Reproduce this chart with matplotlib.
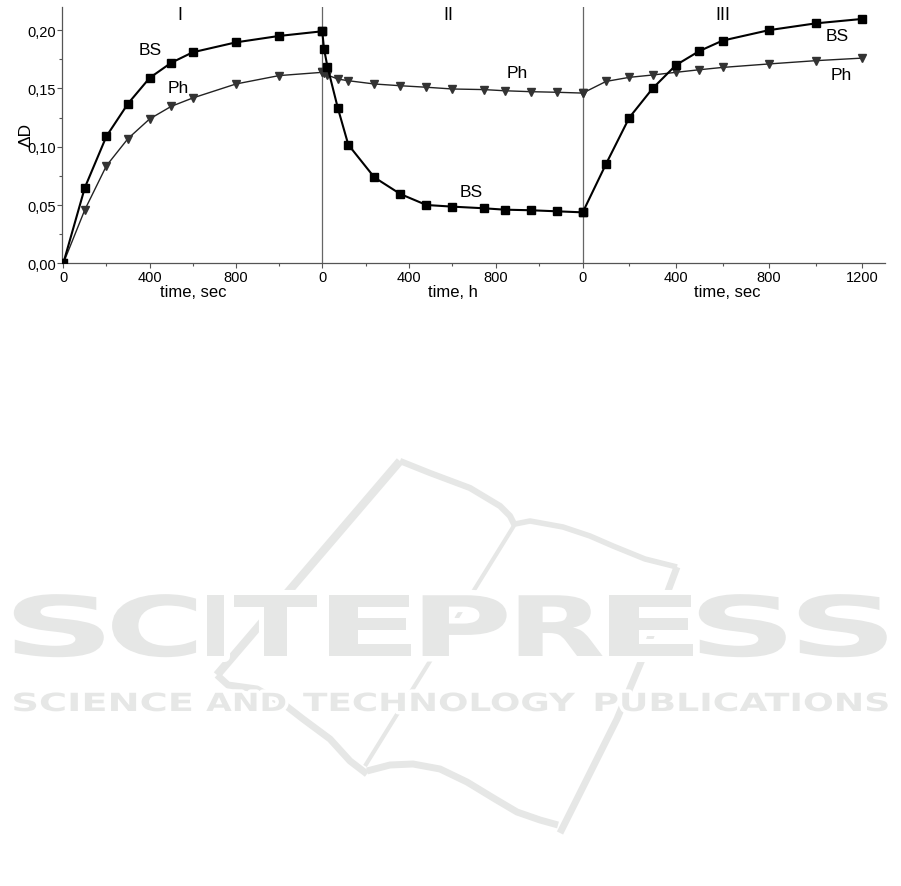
import matplotlib
matplotlib.use('Agg')
import matplotlib.pyplot as plt
import matplotlib.patheffects as pe
from matplotlib.transforms import Affine2D
from matplotlib.textpath import TextPath
from matplotlib.font_manager import FontProperties
import numpy as np

plt.rcParams['font.family'] = ['Liberation Sans', 'DejaVu Sans']

# ---------------- data ----------------
# stage I (time, sec)
t1 = [0, 100, 200, 300, 400, 500, 600, 800, 1000, 1200]
bs1 = [0.0, 0.065, 0.109, 0.137, 0.159, 0.172, 0.181, 0.1895, 0.195, 0.199]
ph1 = [0.0, 0.046, 0.0837, 0.107, 0.1238, 0.1346, 0.1418, 0.1538, 0.161, 0.1638]
# stage II (time, h)
t2 = [0, 8, 24, 72, 120, 240, 360, 480, 600, 744, 840, 960, 1080, 1200]
bs2 = [0.199, 0.184, 0.1686, 0.133, 0.1017, 0.0737, 0.0594, 0.050, 0.0486,
       0.0472, 0.046, 0.0455, 0.0446, 0.0437]
ph2 = [0.1638, 0.163, 0.1615, 0.158, 0.1566, 0.1538, 0.1523, 0.151, 0.1495,
       0.149, 0.148, 0.1472, 0.1467, 0.146]
# stage III (time, sec)
t3 = [0, 100, 200, 300, 400, 500, 600, 800, 1000, 1200]
bs3 = [0.0437, 0.0852, 0.125, 0.150, 0.170, 0.182, 0.191, 0.200, 0.2058, 0.2096]
ph3 = [0.146, 0.156, 0.1595, 0.1615, 0.1638, 0.166, 0.168, 0.171, 0.1738, 0.176]

stage_names = ['I', 'II', 'III']
xlabels = ['time, sec', 'time, h', 'time, sec']
major_ticks = [[0, 400, 800], [0, 400, 800], [0, 400, 800, 1200]]
minor_ticks = [[200, 600, 1000], [200, 600, 1000], [200, 600, 1000]]
yticks = [0.0, 0.05, 0.10, 0.15, 0.20]

# panel placement on the common axis
offsets = [0, 1200, 2407]
scales = [1.0, 1.0056, 1.0797]


def X(p, t):
    return offsets[p] + scales[p] * np.asarray(t, dtype=float)


W, H = 901, 887
DPI = 100
fig = plt.figure(figsize=(W / DPI, H / DPI), dpi=DPI)

# ---------------- watermark (background) ----------------
WM = '#e6e7e6'
bg = fig.add_axes([0, 0, 1, 1], zorder=-2)
bg.set_xlim(0, W)
bg.set_ylim(H, 0)
bg.axis('off')


class Stretch(pe.AbstractPathEffect):
    """Horizontally stretch a text path about a pixel x position, with a white halo."""

    def __init__(self, sx, cx, halo_lw=0.0, halo_color='white'):
        super().__init__()
        self.sx, self.cx = sx, cx
        self.halo_lw, self.halo_color = halo_lw, halo_color

    def draw_path(self, renderer, gc, tpath, affine, rgbFace=None):
        aff = affine + Affine2D().translate(-self.cx, 0).scale(self.sx, 1).translate(self.cx, 0)
        if self.halo_lw:
            gc0 = renderer.new_gc()
            gc0.copy_properties(gc)
            gc0.set_linewidth(self.halo_lw)
            gc0.set_foreground(self.halo_color)
            renderer.draw_path(gc0, tpath, aff, rgbFace)
            gc0.restore()
        renderer.draw_path(gc, tpath, aff, rgbFace)


logo_paths = [
    ([(217, 676), (400, 462)], 6.0),
    ([(400, 462), (430, 474), (470, 489), (500, 507), (510, 517), (515, 527)], 4.5),
    ([(515, 525), (530, 522), (563, 528), (590, 537), (613, 547), (645, 560), (677, 568)], 4.0),
    ([(515, 525), (365, 767)], 3.0),
    ([(677, 568), (668, 592), (641, 663), (617, 720), (560, 834)], 5.0),
    ([(217, 676), (228, 686), (257, 690), (285, 706), (303, 720), (330, 740), (350, 762), (367, 775)], 5.0),
    ([(367, 772), (390, 766), (413, 765), (440, 770), (467, 783), (495, 800), (517, 813), (540, 821), (558, 826)], 5.0),
]
for pts, lw in logo_paths:
    xs, ys = zip(*pts)
    bg.plot(xs, ys, color=WM, lw=lw, solid_capstyle='butt', solid_joinstyle='round')

wm_font = FontProperties(family='DejaVu Sans', weight='bold')


def ink_width_px(s, size_pt):
    ext = TextPath((0, 0), s, size=size_pt, prop=wm_font).get_extents()
    return ext.width * DPI / 72.0


big_letters = list('SCITEPRESS')
big_spans = [(14, 104), (113, 197), (207, 224), (234, 317), (327, 409),
             (419, 503), (514, 598), (607, 691), (699, 786), (799, 887)]
BIG = 60
for ch, (x0, x1) in zip(big_letters, big_spans):
    cx = (x0 + x1) / 2
    sx = (x1 - x0) / ink_width_px(ch, BIG)
    bg.text(cx, 657, ch, ha='center', va='baseline', fontsize=BIG,
            fontweight='bold', color=WM, family='DejaVu Sans',
            path_effects=[Stretch(sx, cx, halo_lw=8)])

sub_words = ['SCIENCE', 'AND', 'TECHNOLOGY', 'PUBLICATIONS']
sub_spans = [(14, 191), (207, 286), (303, 575), (595, 887)]
SUB = 18
for word, (x0, x1) in zip(sub_words, sub_spans):
    cx = (x0 + x1) / 2
    sx = (x1 - x0) / ink_width_px(word, SUB)
    bg.text(cx, 712, word, ha='center', va='baseline', fontsize=SUB,
            fontweight='bold', color=WM, family='DejaVu Sans',
            path_effects=[Stretch(sx, cx, halo_lw=5)])

# ---------------- main chart ----------------
x_left, x_right = 62.3, 885.0
y_top, y_bot = 7.8, 264.3
ax = fig.add_axes([x_left / W, 1 - y_bot / H, (x_right - x_left) / W, (y_bot - y_top) / H])
ax.patch.set_alpha(0)

px_per_unit = 0.2158
ax.set_xlim((x_left - 63.3) / px_per_unit, (x_right - 63.3) / px_per_unit)
ax.set_ylim(0, 0.22)

AX = '#555555'
for s in ['top', 'right']:
    ax.spines[s].set_visible(False)
for s in ['left', 'bottom']:
    ax.spines[s].set_color(AX)
    ax.spines[s].set_linewidth(0.9)

# separators between stages
for p in (1, 2):
    ax.axvline(offsets[p], color='#666666', lw=0.9, zorder=1)

ts = [t1, t2, t3]
bss = [bs1, bs2, bs3]
phs = [ph1, ph2, ph3]
for p in range(3):
    ax.plot(X(p, ts[p]), phs[p], color='#222222', lw=1.0, marker='v',
            markersize=6.3, markerfacecolor='#333333', markeredgecolor='#333333', zorder=3)
    ax.plot(X(p, ts[p]), bss[p], color='black', lw=1.5, marker='s',
            markersize=5.2, markerfacecolor='black', markeredgecolor='black', zorder=4)

# x ticks
maj_pos, maj_lab, min_pos = [], [], []
for p in range(3):
    for t in major_ticks[p]:
        maj_pos.append(float(X(p, t)))
        maj_lab.append(str(t))
    for t in minor_ticks[p]:
        min_pos.append(float(X(p, t)))
ax.set_xticks(maj_pos, labels=maj_lab)
ax.set_xticks(min_pos, minor=True)

ax.set_yticks(yticks, labels=[f'{v:.2f}'.replace('.', ',') for v in yticks])
ax.set_yticks(np.arange(0.025, 0.22, 0.05), minor=True)

ax.tick_params(which='major', direction='out', length=3.5, width=0.8, color=AX,
               labelsize=10.5, labelcolor='black')
ax.tick_params(which='minor', direction='out', length=2.2, width=0.8, color=AX)
ax.tick_params(axis='x', which='major', pad=1.0)
ax.tick_params(axis='y', which='major', pad=0.8)

# x labels under each stage
xl_t = [600, 600, 620]
for p in range(3):
    ax.text(X(p, xl_t[p]), -0.0245, xlabels[p], ha='center', va='center',
            fontsize=12, clip_on=False)

# stage numbers
st_t = [541, 579, 602]
for p in range(3):
    ax.text(X(p, st_t[p]), 0.2138, stage_names[p], ha='center', va='center', fontsize=13)

# curve labels
curve_labels = [(0, 402, 0.1838, 'BS'), (0, 532, 0.1512, 'Ph'),
                (1, 897, 0.164, 'Ph'), (1, 685, 0.0612, 'BS'),
                (2, 1091, 0.195, 'BS'), (2, 1108, 0.162, 'Ph')]
for p, t, v, s in curve_labels:
    ax.text(X(p, t), v, s, ha='center', va='center', fontsize=12.5)

fig.text(26 / W, 1 - 135 / H, 'ΔD', rotation=90, ha='center', va='center', fontsize=12.5)

fig.savefig('out.png', dpi=DPI)
